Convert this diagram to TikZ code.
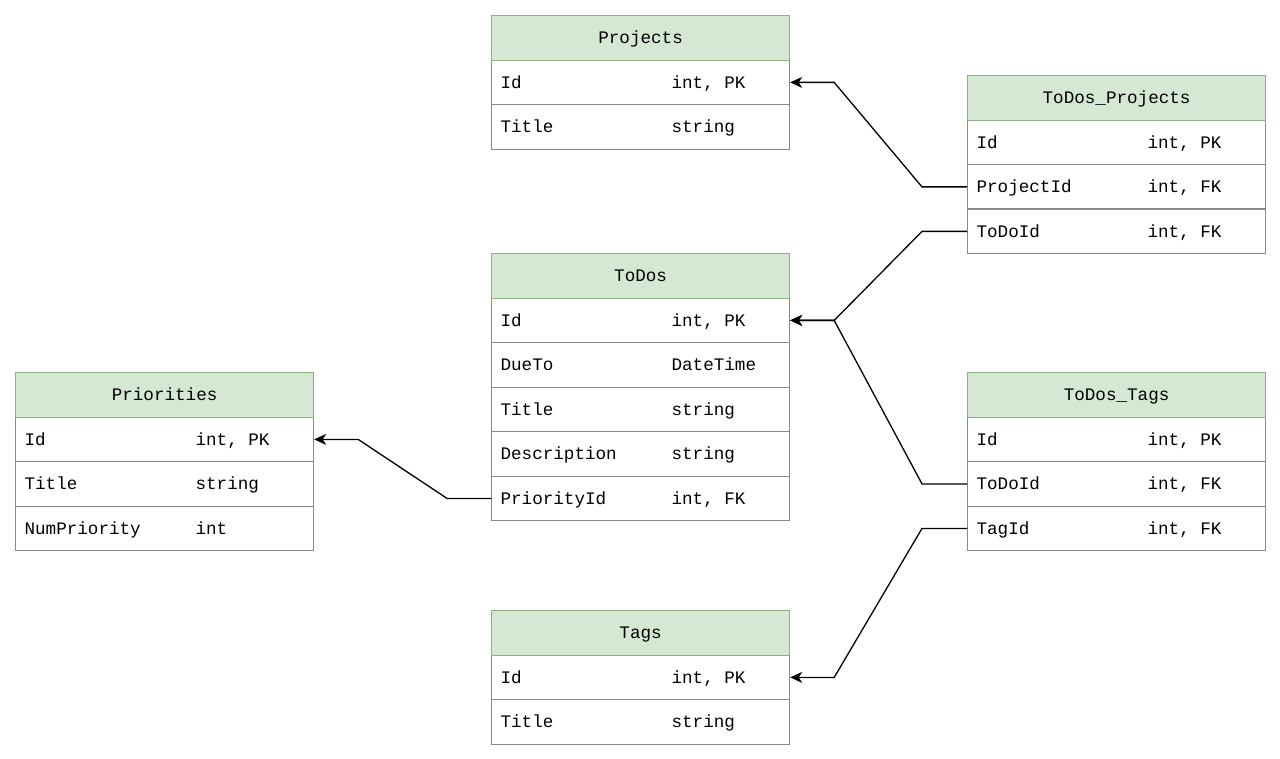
\documentclass[tikz,border=0pt]{standalone}
\usepackage{fontspec}
\setmonofont{Liberation Mono}
\usetikzlibrary{arrows.meta}
\definecolor{hdrfill}{HTML}{D5E8D4}
\definecolor{hdrline}{HTML}{8FB07F}
\definecolor{rowline}{HTML}{8A8A8A}
\newcommand\monosp{\hspace*{0.6em}}
\tikzset{
  tfont/.style={font=\ttfamily\fontsize{17.6}{20}\selectfont},
  hdr/.style={draw=hdrline, fill=hdrfill, line width=1.2pt, minimum width=298pt, minimum height=44.6pt, anchor=north west, inner sep=0pt, text height=11.6pt, text depth=0pt, tfont},
  erow/.style={draw=rowline, fill=white, line width=1.2pt, minimum height=44.6pt, anchor=north west, inner xsep=9pt, inner ysep=0pt, text width=280pt, text height=11.6pt, text depth=0pt, align=left, tfont},
  fk/.style={draw=black, line width=1.3pt, -{Stealth[length=12pt,width=11pt,inset=3.5pt]}},
}
\newcommand\ertab[4]{\node[hdr] (#1-h) at (#2,#3) {#4};}
\newcommand\errow[6]{\node[erow] (#1-#2) at (#3,{#4+44.5*#2}) {\makebox[171pt][l]{#5}#6};}
\begin{document}
\begin{tikzpicture}[x=1pt,y=-1pt]
\useasboundingbox[fill=white] (0,0) rectangle (1280,759);
% Projects
\errow{proj}{1}{491}{15}{Id}{int,\monosp PK}
\errow{proj}{2}{491}{15}{Title}{string}
\ertab{proj}{491}{15}{Projects}
% ToDos_Projects
\errow{tp}{1}{967}{75}{Id}{int,\monosp PK}
\errow{tp}{2}{967}{75}{ProjectId}{int,\monosp FK}
\errow{tp}{3}{967}{75}{ToDoId}{int,\monosp FK}
\ertab{tp}{967}{75}{ToDos\_Projects}
% ToDos
\errow{todo}{1}{491}{253}{Id}{int,\monosp PK}
\errow{todo}{2}{491}{253}{DueTo}{DateTime}
\errow{todo}{3}{491}{253}{Title}{string}
\errow{todo}{4}{491}{253}{Description}{string}
\errow{todo}{5}{491}{253}{PriorityId}{int,\monosp FK}
\ertab{todo}{491}{253}{ToDos}
% Priorities
\errow{prio}{1}{15}{372}{Id}{int,\monosp PK}
\errow{prio}{2}{15}{372}{Title}{string}
\errow{prio}{3}{15}{372}{NumPriority}{int}
\ertab{prio}{15}{372}{Priorities}
% ToDos_Tags
\errow{tt}{1}{967}{372}{Id}{int,\monosp PK}
\errow{tt}{2}{967}{372}{ToDoId}{int,\monosp FK}
\errow{tt}{3}{967}{372}{TagId}{int,\monosp FK}
\ertab{tt}{967}{372}{ToDos\_Tags}
% Tags
\errow{tag}{1}{491}{610}{Id}{int,\monosp PK}
\errow{tag}{2}{491}{610}{Title}{string}
\ertab{tag}{491}{610}{Tags}
% connectors
\draw[fk] (tp-2.west) -- ++(-45,0) -- ([xshift=44pt]proj-1.east) -- (proj-1.east);
\draw[fk] (tp-3.west) -- ++(-45,0) -- ([xshift=44pt]todo-1.east) -- (todo-1.east);
\draw[fk] (tt-2.west) -- ++(-45,0) -- ([xshift=44pt]todo-1.east) -- (todo-1.east);
\draw[fk] (tt-3.west) -- ++(-45,0) -- ([xshift=44pt]tag-1.east) -- (tag-1.east);
\draw[fk] (todo-5.west) -- ++(-44,0) -- ([xshift=44pt]prio-1.east) -- (prio-1.east);
\end{tikzpicture}
\end{document}
